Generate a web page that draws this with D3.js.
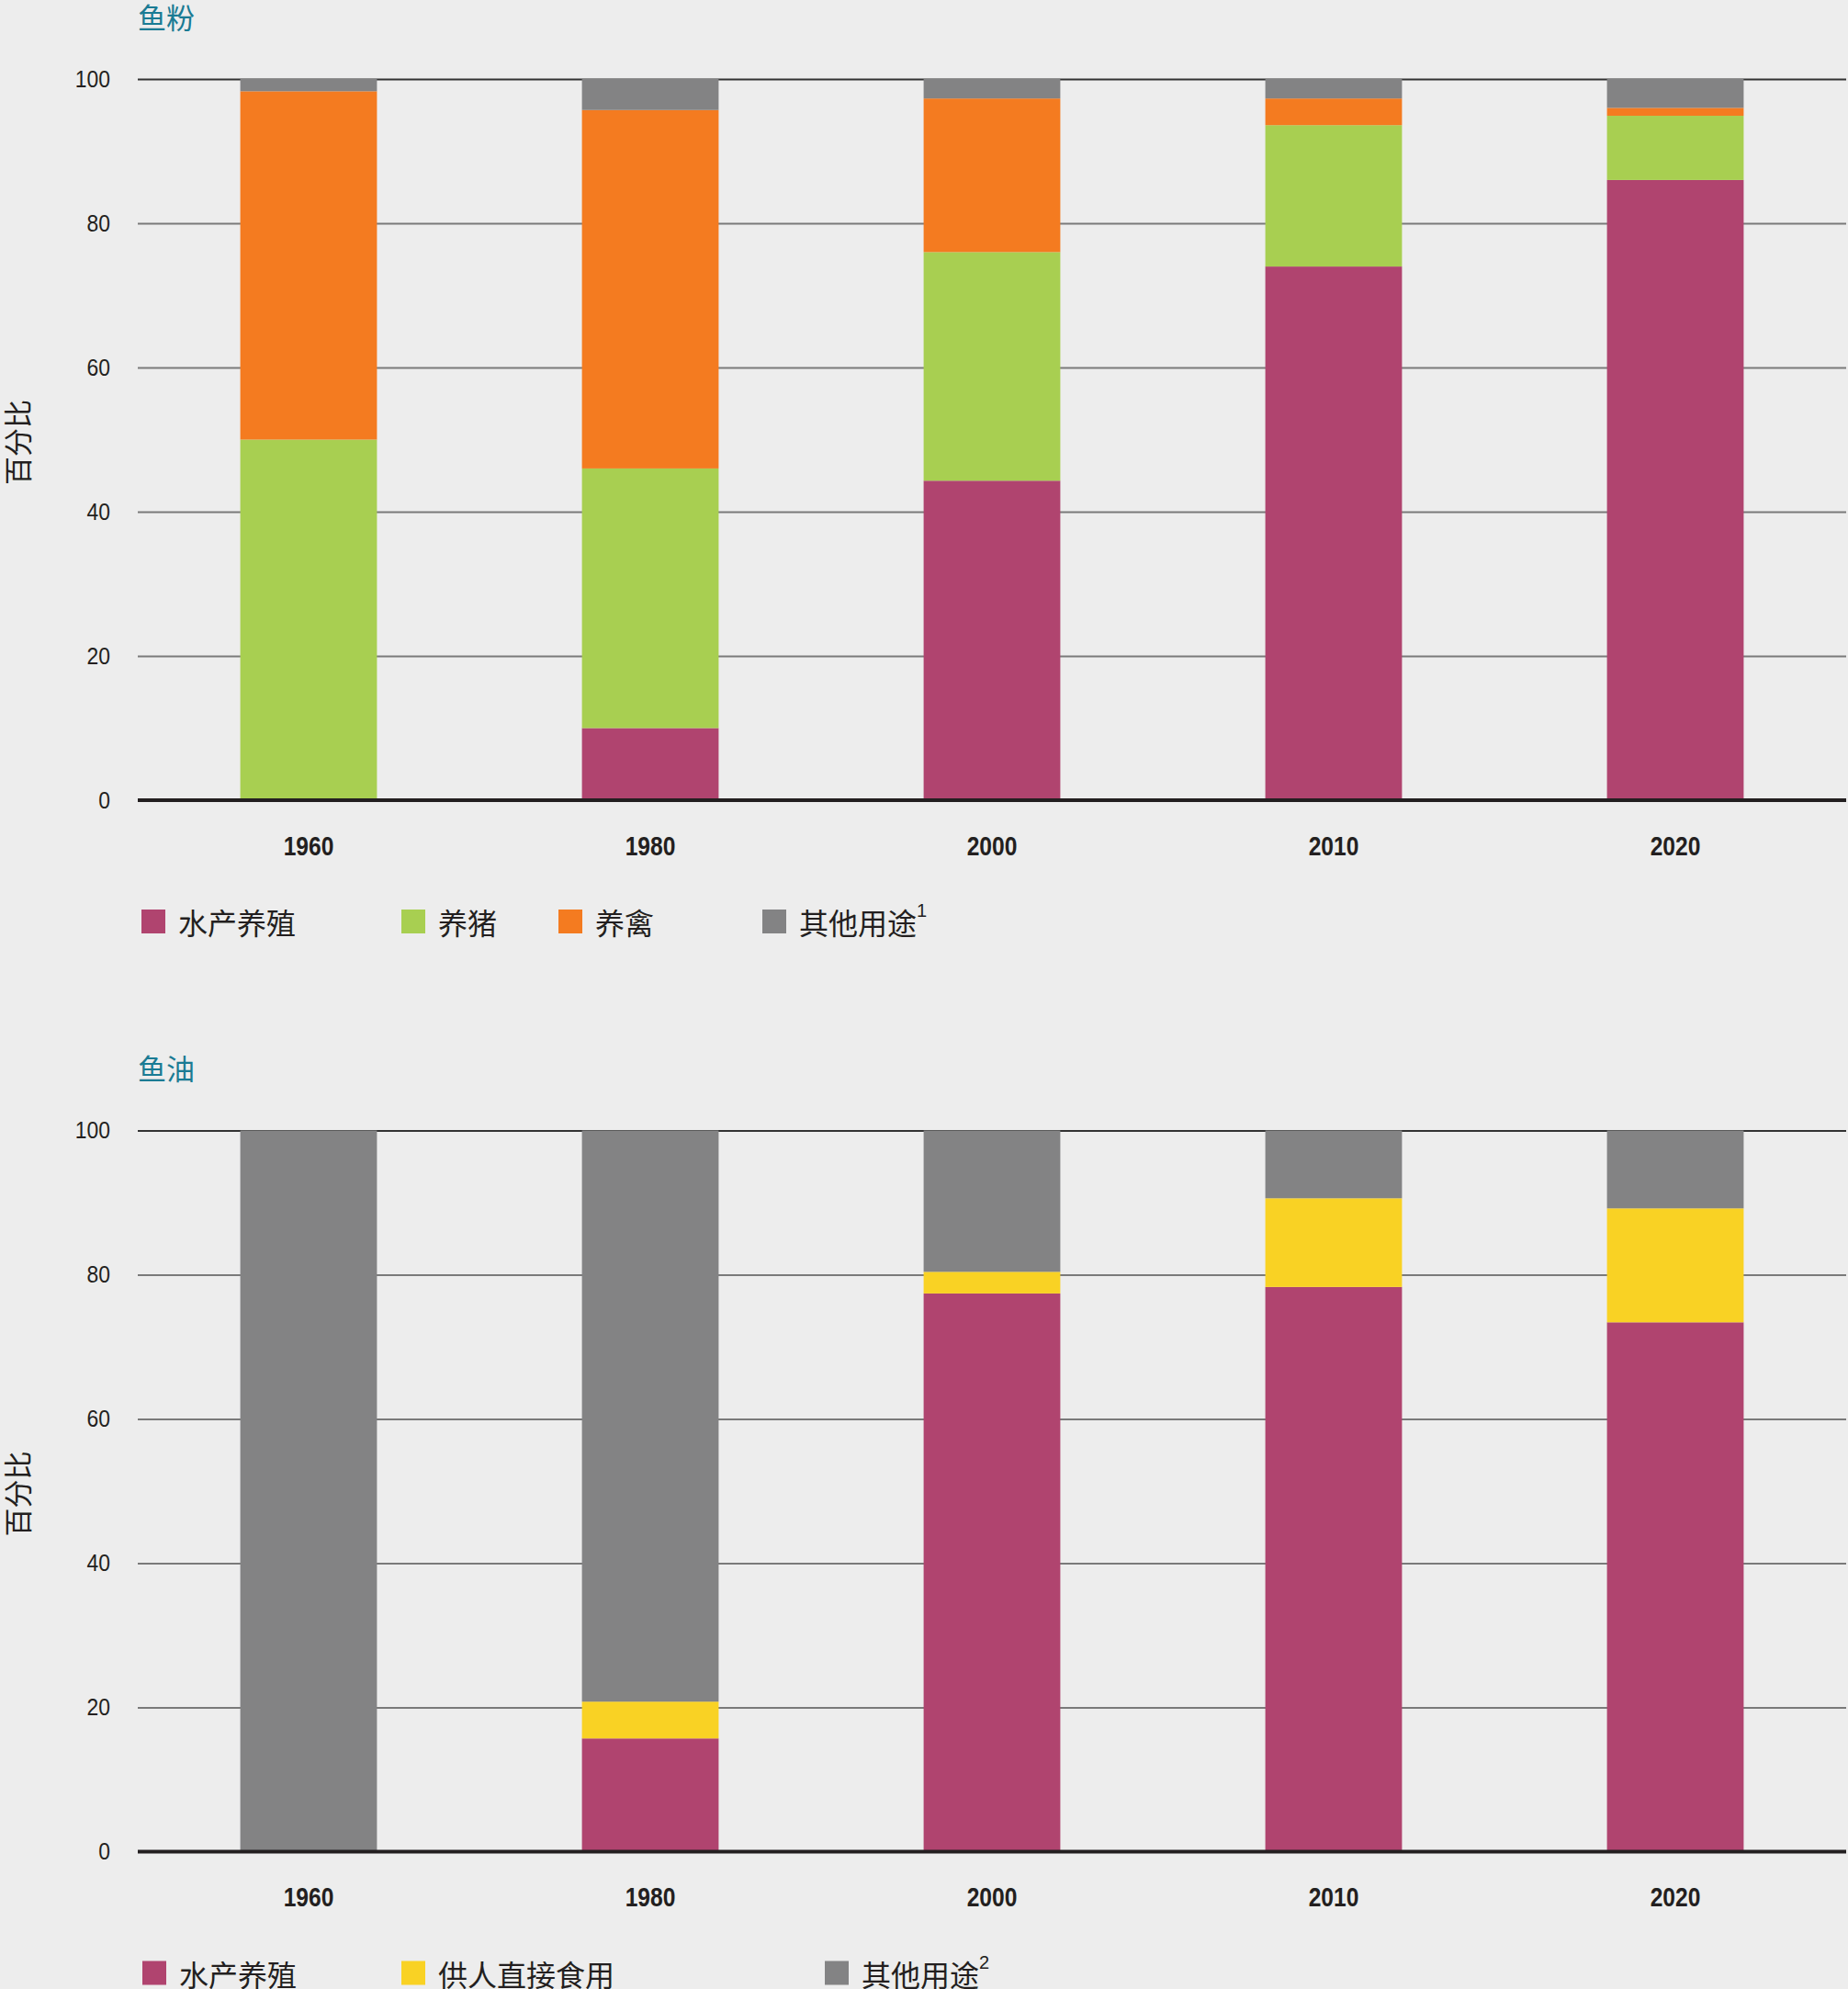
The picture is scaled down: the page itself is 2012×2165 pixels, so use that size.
<!DOCTYPE html>
<html>
<head>
<meta charset="utf-8">
<script src="https://cdn.jsdelivr.net/npm/d3@7"></script>
<style>
  html, body { margin: 0; padding: 0; background: #ededed; }
  svg { display: block; }
  .num { font-family: "Liberation Sans", Arial, sans-serif; }
  .cjk { font-family: "Noto Sans CJK SC", "Noto Sans", sans-serif; }
</style>
</head>
<body>
<script>
// ---------- data ----------
const years = ["1960", "1980", "2000", "2010", "2020"];
const yTicks = [0, 20, 40, 60, 80, 100];

// 鱼粉 (fishmeal)
const mealTitle = "鱼粉";
const mealKeys = ["水产养殖", "养猪", "养禽", "其他用途"];
const mealAquaculture = [0, 10, 44.3, 74, 86];
const mealPigs = [50, 36, 31.7, 19.6, 8.9];
const mealPoultry = [48.3, 49.7, 21.3, 3.7, 1.1];
const mealOther = [1.7, 4.3, 2.7, 2.7, 4.0];
const mealColors = ["#b0446f", "#a8cf51", "#f47b20", "#838384"];
const mealSup = [null, null, null, "1"];

// 鱼油 (fish oil)
const oilTitle = "鱼油";
const oilKeys = ["水产养殖", "供人直接食用", "其他用途"];
const oilAquaculture = [0, 15.7, 77.4, 78.3, 73.4];
const oilFood = [0, 5.1, 3.0, 12.3, 15.8];
const oilOther = [100, 79.2, 19.6, 9.4, 10.8];
const oilColors = ["#b0446f", "#f9d224", "#838384"];
const oilSup = [null, null, "2"];

const yTitle = "百分比";

// ---------- layout ----------
const W = 2012, H = 2165;
const svg = d3.select("body").append("svg").attr("width", W).attr("height", H);
svg.append("rect").attr("width", W).attr("height", H).attr("fill", "#ededed");

function drawPanel(offsetY, title, keys, seriesArrays, colors, sups, legendX) {
  const g = svg.append("g").attr("transform", `translate(0,${offsetY})`);
  const x = d3.scaleBand().domain(years).range([150, 2010]).paddingInner(0.6).paddingOuter(0.3);
  const y = d3.scaleLinear().domain([0, 100]).range([871, 86]);

  const rows = years.map((yr, i) => {
    const r = { year: yr };
    keys.forEach((k, j) => r[k] = seriesArrays[j][i]);
    return r;
  });
  const stacked = d3.stack().keys(keys)(rows);

  // title
  g.append("text").attr("class", "cjk").attr("x", 150).attr("y", 17)
    .attr("dominant-baseline", "central").attr("font-size", 31).attr("fill", "#1a7b94")
    .text(title);

  // y axis title
  g.append("text").attr("class", "cjk")
    .attr("transform", `translate(17,${y(50) + 3}) rotate(-90)`)
    .attr("text-anchor", "middle").attr("dominant-baseline", "central")
    .attr("font-size", 31).attr("fill", "#231f20")
    .text(yTitle);

  // gridlines
  const grid = d3.axisLeft(y).tickValues(yTicks.filter(t => t > 0)).tickSize(-(2010 - 150)).tickFormat("");
  const gg = g.append("g").attr("transform", "translate(150,0)").call(grid);
  gg.select(".domain").remove();
  gg.selectAll(".tick line")
    .attr("stroke", d => d === 100 ? "#333333" : "#7a7a7a")
    .attr("stroke-width", 2);

  // y tick labels
  const yl = d3.axisLeft(y).tickValues(yTicks).tickSize(0).tickPadding(0);
  const ya = g.append("g").attr("transform", "translate(120,0)").call(yl);
  ya.select(".domain").remove();
  ya.attr("font-family", null);
  ya.selectAll("text").attr("class", "num").attr("font-size", 26).attr("fill", "#231f20")
    .attr("x", 0).attr("transform", "scale(0.88,1)");

  // bars
  stacked.forEach((s, j) => {
    g.append("g").attr("fill", colors[j]).selectAll("rect").data(s).join("rect")
      .attr("x", d => x(d.data.year))
      .attr("width", x.bandwidth())
      .attr("y", d => y(d[1]))
      .attr("height", d => Math.max(0, y(d[0]) - y(d[1])));
  });

  // x axis
  const xa = g.append("g").attr("transform", "translate(0,871)")
    .call(d3.axisBottom(x).tickSize(0).tickPadding(0));
  xa.select(".domain").remove();
  xa.attr("font-family", null);
  xa.selectAll("text").attr("class", "num")
    .attr("font-size", 30).attr("font-weight", "bold").attr("fill", "#231f20")
    .attr("dy", null).attr("y", 60).attr("transform", "scale(0.82,1)");
  g.append("line").attr("x1", 150).attr("x2", 2010).attr("y1", 871).attr("y2", 871)
    .attr("stroke", "#231f20").attr("stroke-width", 4);

  // legend
  keys.forEach((k, j) => {
    const lg = g.append("g").attr("transform", `translate(${legendX[j]},990)`);
    lg.append("rect").attr("width", 26).attr("height", 26).attr("fill", colors[j]);
    const t = lg.append("text").attr("class", "cjk").attr("x", 40).attr("y", 13)
      .attr("dominant-baseline", "central").attr("font-size", 32).attr("fill", "#231f20");
    t.append("tspan").text(k);
    if (sups[j]) {
      t.append("tspan").attr("class", "num").attr("font-size", 20).attr("dy", -12).text(sups[j]);
    }
  });
}

drawPanel(0, mealTitle, mealKeys, [mealAquaculture, mealPigs, mealPoultry, mealOther],
  mealColors, mealSup, [154, 437, 608, 830]);
drawPanel(1144.5, oilTitle, oilKeys, [oilAquaculture, oilFood, oilOther],
  oilColors, oilSup, [155, 437, 898]);
</script>
</body>
</html>
